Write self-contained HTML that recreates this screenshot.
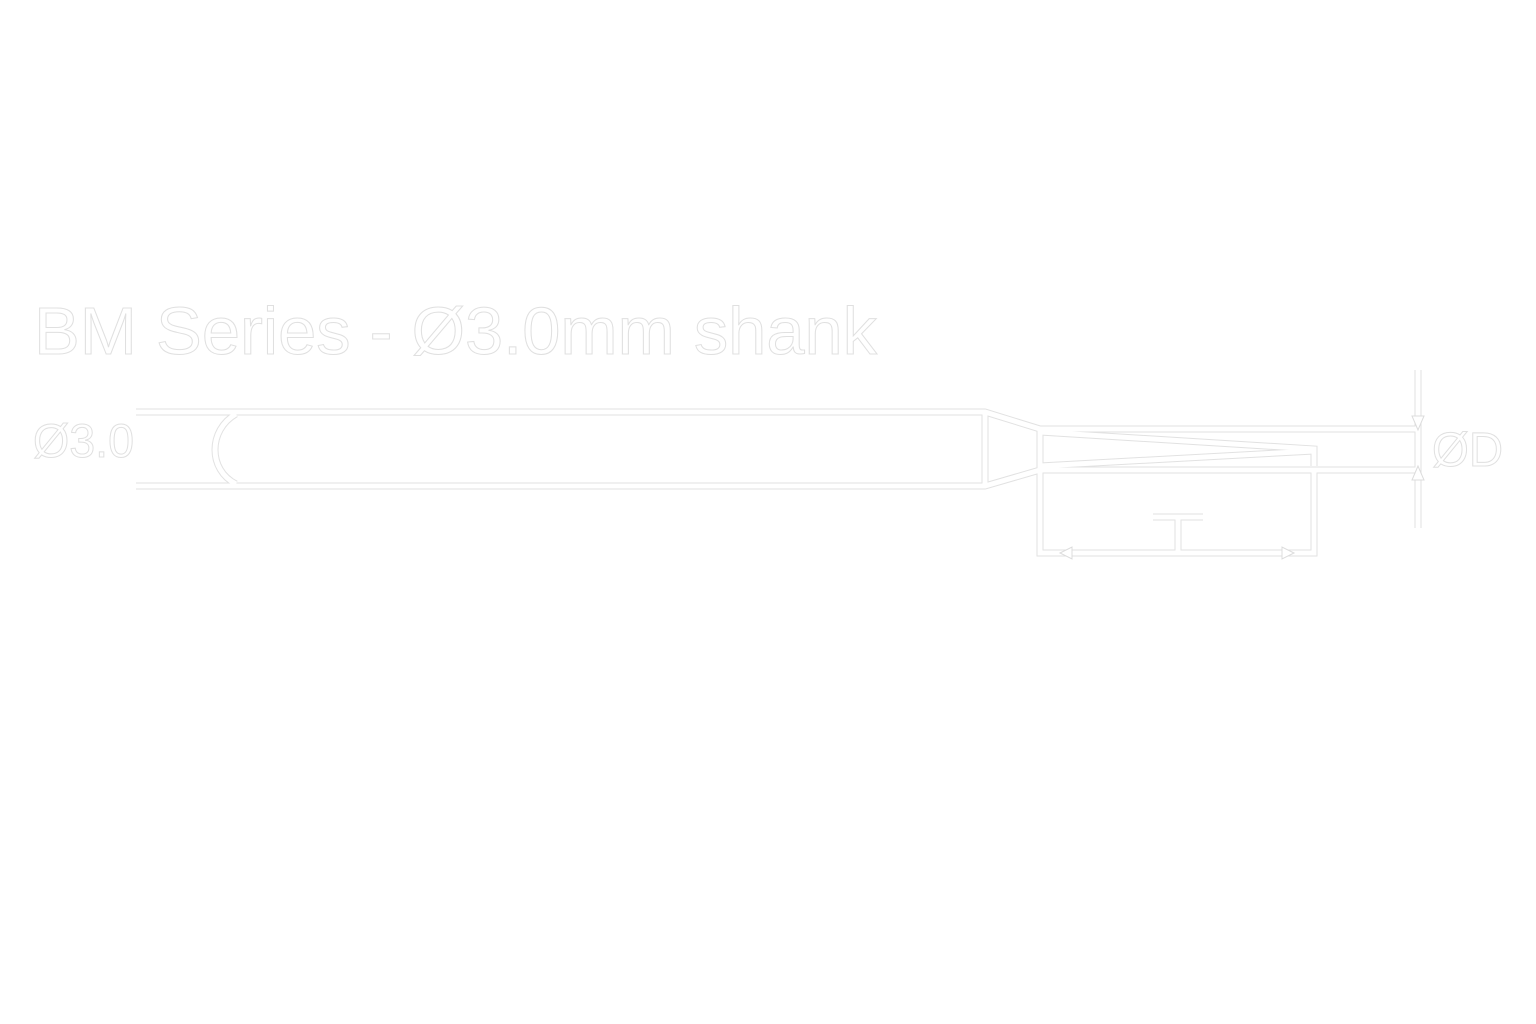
<!DOCTYPE html>
<html><head><meta charset="utf-8"><style>
html,body{margin:0;padding:0;background:#fff;width:1536px;height:1024px;overflow:hidden}
svg{position:absolute;left:0;top:0}
</style></head><body>
<svg width="1536" height="1024" viewBox="0 0 1536 1024" xmlns="http://www.w3.org/2000/svg">
<g fill="none" stroke-linejoin="miter" stroke-linecap="butt">
<g id="d">
<path d="M136 412 H985 L1040 429 H1420"/>
<path d="M136 486 H985 L1040 470 H1420"/>
<path d="M985 412 V486"/>
<path d="M1040 429 V470"/>
<path d="M1040 432 L1314 449 V466"/>
<path d="M1040 466 L1314 451"/>
<path d="M1040 470 V553 H1314 V470"/>
<path d="M1178 553 V517 M1153 517 H1203"/>
<path d="M1418 370 V528"/>
<path d="M236 414 C208 430 208 470 236 484"/>
</g>
<use href="#d" stroke="#e2e2e2" stroke-width="7"/>
<use href="#d" stroke="#ffffff" stroke-width="5"/>
</g>
<g fill="#fff" stroke="#dcdcdc" stroke-width="1">
<path d="M1060 553 l12 -6 v12 z M1294 553 l-12 -6 v12 z"/>
<path d="M1418 430 l-6 -14 h12 z M1418 466 l-6 14 h12 z"/>
</g>
<g font-family="Liberation Sans, sans-serif" fill="#fff" stroke="#e0e0e0" stroke-width="1">
<text x="34" y="354" font-size="67" textLength="843" lengthAdjust="spacingAndGlyphs">BM Series - Ø3.0mm shank</text>
<text x="33" y="457" font-size="47" textLength="101" lengthAdjust="spacingAndGlyphs">Ø3.0</text>
<text x="1432" y="466" font-size="48" textLength="71" lengthAdjust="spacingAndGlyphs">ØD</text>
</g>
</svg>
</body></html>
